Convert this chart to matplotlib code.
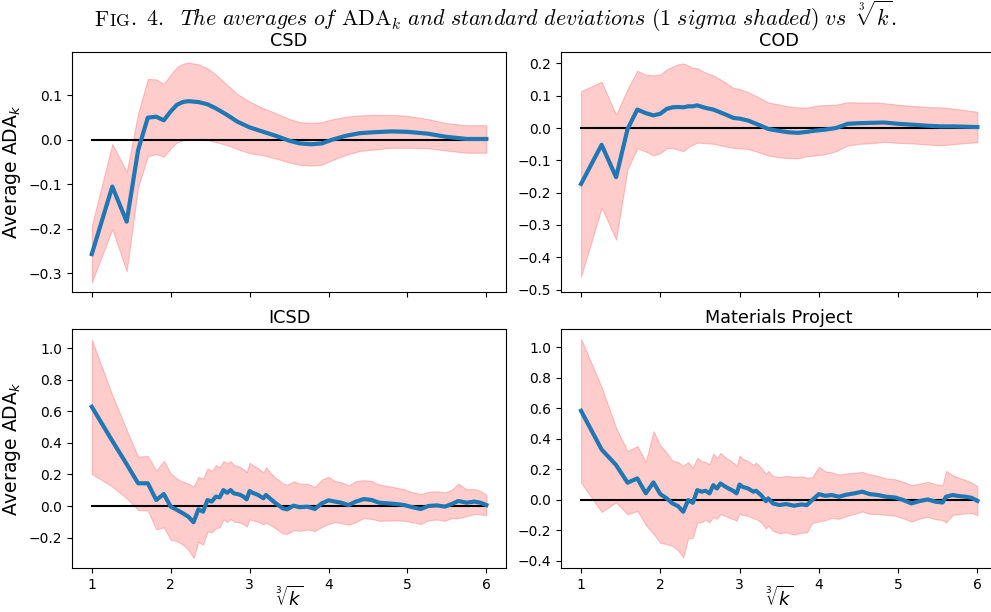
import numpy as np
import matplotlib
matplotlib.use("Agg")
import matplotlib.pyplot as plt

csd_k = [1, 2, 3, 4, 5, 6, 7, 8, 9, 10, 11, 12, 13, 15, 17, 20, 23, 27, 32, 37, 43, 48, 54, 60,
         66, 75, 85, 95, 110, 125, 145, 165, 190, 216]
csd_mean = [-0.257, -0.105, -0.184, -0.023, 0.050, 0.052, 0.044, 0.064, 0.079, 0.085, 0.087, 0.086,
            0.085, 0.080, 0.071, 0.056, 0.041, 0.028, 0.018, 0.009, -0.002, -0.008, -0.010, -0.008,
            0.000, 0.009, 0.015, 0.017, 0.019, 0.018, 0.014, 0.007, 0.002, 0.002]
csd_std = [0.064, 0.096, 0.112, 0.083, 0.087, 0.084, 0.082, 0.083, 0.085, 0.086, 0.087, 0.086,
           0.085, 0.081, 0.076, 0.068, 0.062, 0.058, 0.053, 0.051, 0.049, 0.048, 0.048, 0.048,
           0.046, 0.043, 0.040, 0.039, 0.037, 0.036, 0.033, 0.031, 0.031, 0.031]

cod_k = [1, 2, 3, 4, 5, 6, 7, 8, 9, 10, 11, 12, 13, 14, 15, 17, 19, 22, 25, 27, 30, 34, 38, 42,
         47, 52, 57, 62, 68, 75, 83, 92, 102, 112, 125, 140, 155, 170, 185, 200, 216]
cod_mean = [-0.173, -0.052, -0.152, -0.003, 0.057, 0.046, 0.039, 0.044, 0.059, 0.064, 0.065, 0.064,
            0.067, 0.067, 0.070, 0.062, 0.057, 0.044, 0.031, 0.029, 0.023, 0.010, -0.003, -0.008,
            -0.013, -0.015, -0.012, -0.008, -0.005, 0.000, 0.013, 0.015, 0.016, 0.017, 0.013, 0.010,
            0.007, 0.005, 0.005, 0.004, 0.003]
cod_std = [0.287, 0.195, 0.193, 0.124, 0.120, 0.119, 0.124, 0.122, 0.122, 0.126, 0.132, 0.136,
           0.126, 0.119, 0.115, 0.109, 0.106, 0.100, 0.093, 0.092, 0.088, 0.085, 0.082, 0.082,
           0.080, 0.079, 0.075, 0.077, 0.076, 0.072, 0.067, 0.064, 0.063, 0.060, 0.059, 0.058,
           0.058, 0.059, 0.055, 0.051, 0.047]

icsd_k = [1, 2, 3, 4, 5, 6, 7, 8, 9, 10, 11, 12, 13, 14, 15, 16, 17, 18, 19, 20, 21, 22, 23, 24,
          25, 26, 27, 28, 30, 32, 33, 35, 37, 40, 42, 45, 48, 52, 56, 60, 64, 68, 72, 77, 82, 88,
          94, 100, 107, 114, 122, 130, 138, 146, 155, 164, 172, 180, 190, 200, 208, 216]
icsd_mean = [0.629, 0.413, 0.265, 0.144, 0.144, 0.038, 0.076, -0.004, -0.025, -0.046, -0.068, -0.103,
             -0.021, -0.036, 0.038, 0.028, 0.059, 0.055, 0.101, 0.084, 0.101, 0.080, 0.076, 0.070,
             0.059, 0.042, 0.095, 0.084, 0.070, 0.049, 0.070, 0.042, 0.017, -0.015, -0.021, 0.002,
             -0.008, -0.004, -0.019, 0.017, 0.036, 0.028, 0.021, 0.006, 0.028, 0.044, 0.038, 0.021,
             0.017, 0.013, 0.006, -0.008, -0.019, 0.000, 0.004, -0.004, 0.013, 0.032, 0.021, 0.028,
             0.021, 0.006]
icsd_std = [0.426, 0.290, 0.217, 0.169, 0.173, 0.187, 0.211, 0.211, 0.198, 0.200, 0.210, 0.226,
            0.206, 0.210, 0.200, 0.195, 0.200, 0.190, 0.185, 0.186, 0.183, 0.180, 0.178, 0.176,
            0.175, 0.172, 0.180, 0.175, 0.170, 0.165, 0.175, 0.165, 0.160, 0.160, 0.155, 0.155,
            0.150, 0.145, 0.140, 0.150, 0.150, 0.130, 0.130, 0.125, 0.130, 0.120, 0.120, 0.115,
            0.110, 0.105, 0.100, 0.095, 0.095, 0.090, 0.090, 0.090, 0.090, 0.110, 0.085, 0.080,
            0.075, 0.065]

mp_k = [1, 2, 3, 4, 5, 6, 7, 8, 9, 10, 11, 12, 13, 14, 15, 16, 17, 18, 19, 20, 21, 22, 23, 24,
        25, 26, 27, 28, 30, 32, 33, 35, 37, 38, 40, 43, 46, 50, 54, 57, 60, 64, 68, 72, 77, 82,
        88, 94, 100, 107, 114, 122, 130, 138, 146, 155, 164, 172, 176, 184, 192, 200, 208, 216]
mp_mean = [0.584, 0.330, 0.228, 0.112, 0.140, 0.042, 0.114, 0.037, 0.009, -0.024, -0.042, -0.079,
           -0.002, -0.020, 0.063, 0.053, 0.059, 0.042, 0.096, 0.074, 0.107, 0.092, 0.079, 0.068,
           0.057, 0.042, 0.100, 0.085, 0.074, 0.053, 0.059, 0.031, -0.009, 0.009, -0.024, -0.035,
           -0.028, -0.039, -0.031, -0.035, -0.002, 0.037, 0.026, 0.031, 0.020, 0.033, 0.042, 0.053,
           0.037, 0.031, 0.020, 0.015, -0.002, -0.024, -0.009, 0.002, -0.013, -0.018, 0.020, 0.031,
           0.024, 0.020, 0.013, -0.007]
mp_std = [0.473, 0.410, 0.245, 0.208, 0.213, 0.208, 0.337, 0.320, 0.300, 0.280, 0.290, 0.300,
          0.250, 0.230, 0.213, 0.200, 0.190, 0.190, 0.208, 0.200, 0.200, 0.195, 0.190, 0.190,
          0.185, 0.180, 0.190, 0.185, 0.180, 0.175, 0.185, 0.180, 0.180, 0.180, 0.180, 0.185,
          0.185, 0.190, 0.185, 0.180, 0.150, 0.180, 0.160, 0.150, 0.145, 0.140, 0.135, 0.130,
          0.130, 0.125, 0.120, 0.120, 0.120, 0.120, 0.115, 0.115, 0.115, 0.115, 0.170, 0.130,
          0.120, 0.110, 0.100, 0.095]

panels = [
    ("CSD", csd_k, csd_mean, csd_std, (-0.342, 0.1975)),
    ("COD", cod_k, cod_mean, cod_std, (-0.507, 0.235)),
    ("ICSD", icsd_k, icsd_mean, icsd_std, (-0.393, 1.124)),
    ("Materials Project", mp_k, mp_mean, mp_std, (-0.448, 1.123)),
]

# axes boxes in figure fractions (right column runs past the edge, as in the original crop)
boxes = [
    [0.0727, 0.523, 0.438, 0.392],
    [0.5663, 0.523, 0.440, 0.392],
    [0.0727, 0.0719, 0.438, 0.391],
    [0.5663, 0.0719, 0.440, 0.391],
]

fig = plt.figure(figsize=(9.91, 6.12), dpi=100)

axes = []
for i, (name, k, mean, std, ylim) in enumerate(panels):
    ax = fig.add_axes(boxes[i], sharex=axes[0] if axes else None)
    axes.append(ax)
    x = np.cbrt(np.array(k, dtype=float))
    m = np.array(mean)
    s = np.array(std)
    ax.fill_between(x, m - s, m + s, color="red", alpha=0.2, linewidth=0.8)
    ax.plot([1, 6], [0, 0], color="black", lw=1.5)
    ax.plot(x, m, color="tab:blue", lw=3)
    ax.set_xlim(0.75, 6.25)
    ax.set_ylim(*ylim)
    ax.set_xticks([1, 2, 3, 4, 5, 6])
    ax.tick_params(labelsize=10)
    ax.set_title(name, fontsize=12.7, pad=4)
    if i % 2 == 0:
        ax.set_ylabel("Average ADA$_k$", fontsize=13.5)
    if i >= 2:
        ax.set_xlabel(r"$\sqrt[3]{k}$", fontsize=13, labelpad=-4)
    else:
        ax.tick_params(labelbottom=False)

# caption: small caps "Fig." then italic text, laid out piece by piece on one baseline
pieces = [
    (r"$\mathrm{F}$", 15.8),
    (r"$\mathrm{IG}$", 12.5),
    (r"$\mathrm{.\ 4.}\ \ \mathit{The\ averages\ of\ }\mathrm{ADA}_k\ "
     r"\mathit{and\ standard\ deviations\ (1\ sigma\ shaded)\ vs}\ \ \sqrt[3]{k}\mathrm{.}$", 15.8),
]
r = fig.canvas.get_renderer()
texts, widths = [], []
for s, size in pieces:
    t = fig.text(0, 0.957, s, fontsize=size, va="baseline", ha="left", math_fontfamily="cm")
    texts.append(t)
    widths.append(t.get_window_extent(r).width)
xpos = 0.5 * fig.bbox.width - sum(widths) / 2
for t, w in zip(texts, widths):
    t.set_x(xpos / fig.bbox.width)
    xpos += w

fig.savefig("out.png", dpi=100)
